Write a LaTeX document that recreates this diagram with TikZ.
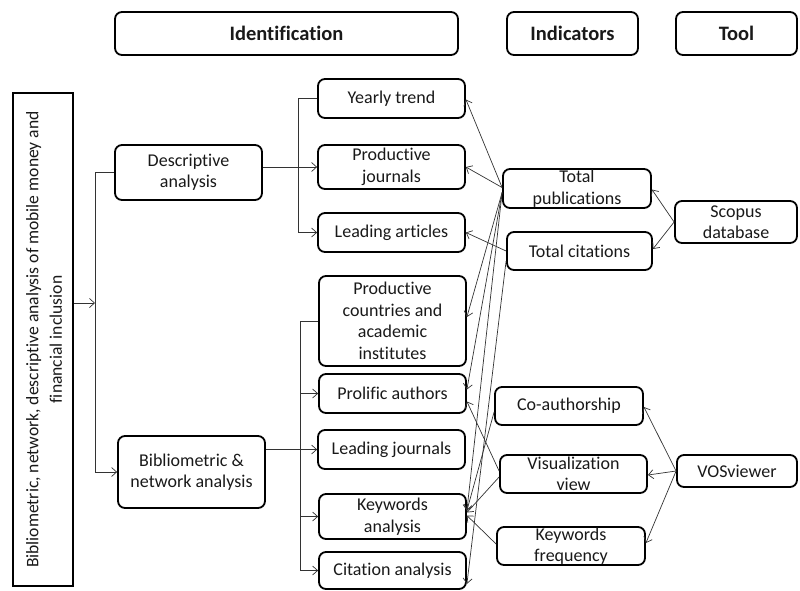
\documentclass[tikz,border=0pt]{standalone}
\usepackage{fontspec}
\setmainfont{Carlito}[Ligatures=NoCommon]
\usetikzlibrary{arrows.meta,calc}
\begin{document}
\begin{tikzpicture}[x=1pt,y=-1pt,
  box/.style={draw=black, line width=1.8pt, rounded corners=7pt, align=center, inner sep=0pt,
    text=black!90, font=\fontsize{18}{21.5}\selectfont},
  hdr/.style={box, font=\bfseries\fontsize{20.5}{24}\selectfont},
  conn/.style={line width=0.7pt, draw=black!80},
  arr/.style={conn, -{Straight Barb[length=5pt,width=9pt]}}]
\useasboundingbox (0,0) rectangle (800,590);
% headers
\node[hdr, minimum width=343pt, minimum height=43pt] (ident) at (286.5,33.5) {Identification};
\node[hdr, minimum width=131pt, minimum height=43pt] (indic) at (572.5,33.5) {Indicators};
\node[hdr, minimum width=121pt, minimum height=43pt] (tool) at (736.5,33.5) {Tool};
% left box
\node[box, rounded corners=0pt, minimum width=60pt, minimum height=493pt] (main) at (43,339.5) {};
\node[rotate=90, align=center, inner sep=0pt, text=black!90, font=\fontsize{17.6}{23.5}\selectfont] (maintext) at ([xshift=1pt]main.center)
  {Bibliometric, network, descriptive analysis of mobile money and\\financial inclusion};
% level 2
\node[box, minimum width=147pt, minimum height=55pt] (desc) at (188.5,172.5) {Descriptive\\analysis};
\node[box, minimum width=147pt, minimum height=72pt] (biblio) at (191.5,472) {Bibliometric \&\\network analysis};
% identification items
\node[box, minimum width=147pt, minimum height=39pt] (yearly) at (391.5,98.5) {Yearly trend};
\node[box, minimum width=147pt, minimum height=44pt] (pjour) at (391.5,167) {Productive\\journals};
\node[box, minimum width=147pt, minimum height=39pt] (lart) at (391.5,232.5) {Leading articles};
\node[box, minimum width=147pt, minimum height=90pt] (pcount) at (392.5,321) {Productive\\countries and\\academic\\institutes};
\node[box, minimum width=147pt, minimum height=39pt] (prolific) at (392.5,393.5) {Prolific authors};
\node[box, minimum width=147pt, minimum height=39pt] (ljour) at (391.5,449.5) {Leading journals};
\node[box, minimum width=147pt, minimum height=45pt] (kwa) at (392.5,516.5) {Keywords\\analysis};
\node[box, minimum width=147pt, minimum height=37pt] (cita) at (392.5,570.5) {Citation analysis};
% indicators
\node[box, minimum width=148pt, minimum height=39pt] (tp) at (577,188.5) {Total\\publications};
\node[box, minimum width=145pt, minimum height=38pt] (tc) at (579.5,251) {Total citations};
\node[box, minimum width=148pt, minimum height=38pt] (coauth) at (569,406) {Co-authorship};
\node[box, minimum width=147pt, minimum height=38pt] (visual) at (573.5,474) {Visualization\\view};
\node[box, minimum width=148pt, minimum height=38pt] (kwf) at (571,546) {Keywords\\frequency};
% tools
\node[box, minimum width=122pt, minimum height=42pt] (scopus) at (736,222) {Scopus\\database};
\node[box, minimum width=120pt, minimum height=32pt] (vos) at (737,471) {VOSviewer};
% junction coordinates
\coordinate (j0) at (95,303);
\coordinate (j1) at (298,0);
\coordinate (j2) at (300,0);
% tree connectors
\draw[arr] (main.east |- j0) -- (j0);
\draw[arr] (desc.west) -- (desc.west -| j0) -- (biblio.west -| j0) -- (biblio.west);
\draw[arr] (desc.east |- pjour.west) -- (pjour.west);
\draw[arr] (yearly.west) -- (yearly.west -| j1) -- (lart.west -| j1) -- (lart.west);
\draw[arr] (biblio.east |- ljour.west) -- (ljour.west);
\draw[arr] (pcount.west) -- (pcount.west -| j2) -- (cita.west -| j2) -- (cita.west);
\draw[arr] (prolific.west -| j2) -- (prolific.west);
\draw[arr] (kwa.west -| j2) -- (kwa.west);
% indicators to identification
\draw[arr] ([yshift=1pt]tp.west) -- ([yshift=-1pt]yearly.east);
\draw[arr] ([yshift=1pt]tp.west) -- (pjour.east);
\draw[arr] (tc.west) -- (lart.east);
\draw[arr] ([yshift=-4pt]tp.west) -- ([yshift=4pt]pcount.east);
\draw[arr] ([yshift=-4pt]tp.west) -- ([yshift=4pt]prolific.east);
\draw[arr] ([yshift=-4pt]tp.west) -- ([yshift=6pt]kwa.east);
\draw[arr] ([yshift=-10pt]tc.west) -- ([yshift=6pt]cita.south east);
\draw[arr] ([yshift=-6pt]coauth.west) -- ([yshift=6pt]kwa.east);
\draw[arr] ([yshift=3pt]visual.west) -- ([yshift=-8pt]prolific.east);
\draw[arr] ([yshift=-3pt]visual.west) -- ([yshift=4pt]kwa.east);
\draw[arr] ([yshift=2pt]kwf.west) -- ([yshift=1pt]kwa.east);
% tools to indicators
\draw[arr] (scopus.west) -- ([yshift=-1pt]tp.east);
\draw[arr] (scopus.west) -- ([yshift=2pt]tc.east);
\draw[arr] (vos.west) -- ([yshift=-1pt]coauth.east);
\draw[arr] (vos.west) -- ([yshift=-1pt]visual.east);
\draw[arr] (vos.west) -- ([yshift=3pt]kwf.east);
\end{tikzpicture}
\end{document}
